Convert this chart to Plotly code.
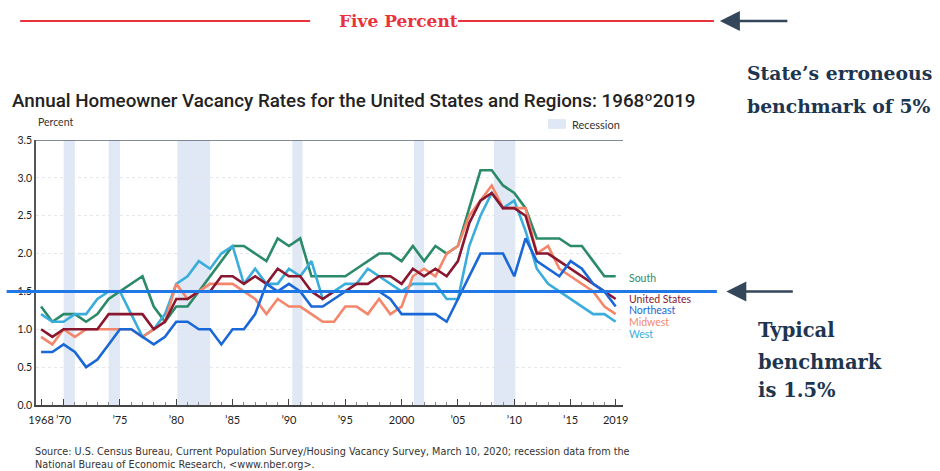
import plotly.graph_objects as go

years = list(range(1968, 2020))

united_states = [1.0, 0.9, 1.0, 1.0, 1.0, 1.0, 1.2, 1.2, 1.2, 1.2,
                 1.0, 1.1, 1.4, 1.4, 1.5, 1.5, 1.7, 1.7, 1.6, 1.7,
                 1.6, 1.8, 1.7, 1.7, 1.5, 1.4, 1.5, 1.5, 1.6, 1.6,
                 1.7, 1.7, 1.6, 1.8, 1.7, 1.8, 1.7, 1.9, 2.4, 2.7,
                 2.8, 2.6, 2.6, 2.5, 2.0, 2.0, 1.9, 1.8, 1.7, 1.6,
                 1.5, 1.4]
northeast = [0.7, 0.7, 0.8, 0.7, 0.5, 0.6, 0.8, 1.0, 1.0, 0.9,
             0.8, 0.9, 1.1, 1.1, 1.0, 1.0, 0.8, 1.0, 1.0, 1.2,
             1.6, 1.5, 1.6, 1.5, 1.3, 1.3, 1.4, 1.5, 1.5, 1.5,
             1.5, 1.4, 1.2, 1.2, 1.2, 1.2, 1.1, 1.4, 1.7, 2.0,
             2.0, 2.0, 1.7, 2.2, 1.9, 1.8, 1.7, 1.9, 1.8, 1.6,
             1.5, 1.3]
midwest = [0.9, 0.8, 1.0, 0.9, 1.0, 1.0, 1.0, 1.0, 1.0, 0.9,
           1.0, 1.1, 1.6, 1.4, 1.5, 1.6, 1.6, 1.6, 1.5, 1.4,
           1.2, 1.4, 1.3, 1.3, 1.2, 1.1, 1.1, 1.3, 1.3, 1.2,
           1.4, 1.2, 1.3, 1.7, 1.8, 1.7, 2.0, 2.1, 2.5, 2.7,
           2.9, 2.6, 2.6, 2.6, 2.0, 2.1, 1.8, 1.7, 1.6, 1.5,
           1.3, 1.2]
south = [1.3, 1.1, 1.2, 1.2, 1.1, 1.2, 1.4, 1.5, 1.6, 1.7,
         1.3, 1.1, 1.3, 1.3, 1.5, 1.7, 1.9, 2.1, 2.1, 2.0,
         1.9, 2.2, 2.1, 2.2, 1.7, 1.7, 1.7, 1.7, 1.8, 1.9,
         2.0, 2.0, 1.9, 2.1, 1.9, 2.1, 2.0, 2.1, 2.6, 3.1,
         3.1, 2.9, 2.8, 2.6, 2.2, 2.2, 2.2, 2.1, 2.1, 1.9,
         1.7, 1.7]
west = [1.2, 1.1, 1.1, 1.2, 1.2, 1.4, 1.5, 1.5, 1.2, 0.9,
        1.0, 1.2, 1.6, 1.7, 1.9, 1.8, 2.0, 2.1, 1.6, 1.8,
        1.6, 1.6, 1.8, 1.7, 1.9, 1.4, 1.5, 1.6, 1.6, 1.8,
        1.7, 1.6, 1.5, 1.6, 1.6, 1.6, 1.4, 1.4, 2.1, 2.5,
        2.8, 2.6, 2.7, 2.3, 1.8, 1.6, 1.5, 1.4, 1.3, 1.2,
        1.2, 1.1]

recessions = [(1970.0, 1971.0), (1974.0, 1975.0), (1980.1, 1983.0),
              (1990.3, 1991.2), (2001.1, 2002.0), (2008.2, 2010.1)]

tick_years = [1968, 1970, 1975, 1980, 1985, 1990, 1995, 2000, 2005, 2010, 2015, 2019]
tick_labels = ["1968", "\u201970", "\u201975", "\u201980", "\u201985", "\u201990",
               "\u201995", "2000", "\u201905", "\u201910", "\u201915", "2019"]

benchmark_typical = 1.5

series = [
    ("South", south, "#2b8a68", 1.68),
    ("West", west, "#3aaddc", 0.94),
    ("Midwest", midwest, "#f4876b", 1.09),
    ("United States", united_states, "#8a1730", 1.40),
    ("Northeast", northeast, "#1a68d8", 1.25),
]

fig = go.Figure()
for name, vals, color, _ in series:
    fig.add_trace(go.Scatter(x=years, y=vals, mode="lines", name=name,
                             line=dict(color=color, width=2.6),
                             showlegend=False))

shapes = []
for a, b in recessions:
    shapes.append(dict(type="rect", xref="x", yref="paper", x0=a, x1=b, y0=0, y1=1,
                       fillcolor="#dfe8f4", line=dict(width=0), layer="below"))
shapes.append(dict(type="line", xref="paper", yref="y", x0=0, x1=1, y0=3.5, y1=3.5,
                   line=dict(color="#5b6673", width=1.5)))
shapes.append(dict(type="line", xref="paper", yref="y", x0=-0.05, x1=1.16,
                   y0=benchmark_typical, y1=benchmark_typical,
                   line=dict(color="#1f78e6", width=3)))
shapes.append(dict(type="line", xref="paper", yref="paper", x0=-0.027, x1=0.467,
                   y0=1.449, y1=1.449, line=dict(color="#e8333c", width=2)))
shapes.append(dict(type="line", xref="paper", yref="paper", x0=0.719, x1=1.155,
                   y0=1.449, y1=1.449, line=dict(color="#e8333c", width=2)))
shapes.append(dict(type="rect", xref="paper", yref="paper", x0=0.872, x1=0.903,
                   y0=1.042, y1=1.079, fillcolor="#dfe8f4", line=dict(width=0)))

slab = "DejaVu Serif"
navy = "#1e3550"
src_font = dict(family="DejaVu Sans", size=9.7, color="#333333")
annotations = [
    dict(text="Annual Homeowner Vacancy Rates for the United States and Regions: 1968\u00ba2019",
         xref="paper", yref="paper", x=-0.0443, y=1.147, xanchor="left", yanchor="middle",
         showarrow=False, font=dict(family="Roboto", size=18.8, color="#222222", weight=500)),
    dict(text="Percent", xref="paper", yref="paper", x=0.0, y=1.068, xanchor="left",
         yanchor="middle", showarrow=False, font=dict(family="Lato", size=10.5, color="#333333")),
    dict(text="Recession", xref="paper", yref="paper", x=0.9097, y=1.06, xanchor="left",
         yanchor="middle", showarrow=False, font=dict(family="Lato", size=11, color="#333333")),
    dict(text="<b>Five Percent</b>", xref="paper", yref="paper", x=0.6167, y=1.449,
         xanchor="center", yanchor="middle", showarrow=False,
         font=dict(family=slab, size=17, color="#e8333c")),
    dict(text="", xref="paper", yref="paper", x=1.165, y=1.449, ax=69, ay=0,
         showarrow=True, arrowhead=2, arrowsize=1.6, arrowwidth=2.5, arrowcolor="#34465a"),
    dict(text="", xref="paper", yref="y", x=1.176, y=benchmark_typical, ax=68, ay=0,
         showarrow=True, arrowhead=2, arrowsize=1.6, arrowwidth=2.5, arrowcolor="#34465a"),
    dict(text="<b>State\u2019s erroneous</b>", xref="paper", yref="paper", x=1.208, y=1.252,
         xanchor="left", yanchor="middle", showarrow=False,
         font=dict(family=slab, size=18.8, color=navy)),
    dict(text="<b>benchmark of 5%</b>", xref="paper", yref="paper", x=1.208, y=1.130,
         xanchor="left", yanchor="middle", showarrow=False,
         font=dict(family=slab, size=18.8, color=navy)),
    dict(text="<b>Typical</b>", xref="paper", yref="paper", x=1.2266, y=0.283,
         xanchor="left", yanchor="middle", showarrow=False,
         font=dict(family=slab, size=19.5, color=navy)),
    dict(text="<b>benchmark</b>", xref="paper", yref="paper", x=1.2266, y=0.162,
         xanchor="left", yanchor="middle", showarrow=False,
         font=dict(family=slab, size=19.5, color=navy)),
    dict(text="<b>is 1.5%</b>", xref="paper", yref="paper", x=1.2266, y=0.053,
         xanchor="left", yanchor="middle", showarrow=False,
         font=dict(family=slab, size=19.5, color=navy)),
    dict(text="Source: U.S. Census Bureau, Current Population Survey/Housing Vacancy Survey, March 10, 2020; recession data from the",
         xref="paper", yref="paper", x=-0.005, y=-0.177, xanchor="left", yanchor="middle",
         showarrow=False, font=src_font),
    dict(text="National Bureau of Economic Research, &lt;www.nber.org&gt;.",
         xref="paper", yref="paper", x=-0.005, y=-0.226, xanchor="left", yanchor="middle",
         showarrow=False, font=src_font),
]
for name, vals, color, ylab in series:
    annotations.append(dict(text=name, xref="paper", yref="y", x=1.007, y=ylab,
                            xanchor="left", yanchor="middle", showarrow=False,
                            font=dict(family="Lato", size=10.5, color=color)))

fig.update_layout(
    width=940, height=471,
    margin=dict(l=36, r=317, t=140, b=66),
    paper_bgcolor="white", plot_bgcolor="white",
    shapes=shapes, annotations=annotations,
    xaxis=dict(range=[1967.55, 2019.65], tickmode="array", tickvals=tick_years,
               ticktext=tick_labels, tickangle=0, ticks="inside", ticklen=6,
               tickcolor="#444444", showline=True, linecolor="#444444", linewidth=1.5,
               showgrid=False, zeroline=False, ticklabelstandoff=4,
               tickfont=dict(family="Lato", size=11, color="#222222"),
               minor=dict(tickmode="array", tickvals=years, ticks="inside", ticklen=3,
                          tickcolor="#888888", showgrid=False)),
    yaxis=dict(range=[0, 3.5], tickmode="linear", tick0=0, dtick=0.5, tickformat=".1f",
               showline=True, linecolor="#555555", linewidth=1.5, showgrid=True,
               gridcolor="#e3e7ec", griddash="dot", zeroline=False,
               tickfont=dict(family="Lato", size=10.5, color="#222222")),
)

fig.write_html("out.html", config={"displayModeBar": False},
               post_script="document.body.style.margin='0';document.body.style.overflow='hidden';")
